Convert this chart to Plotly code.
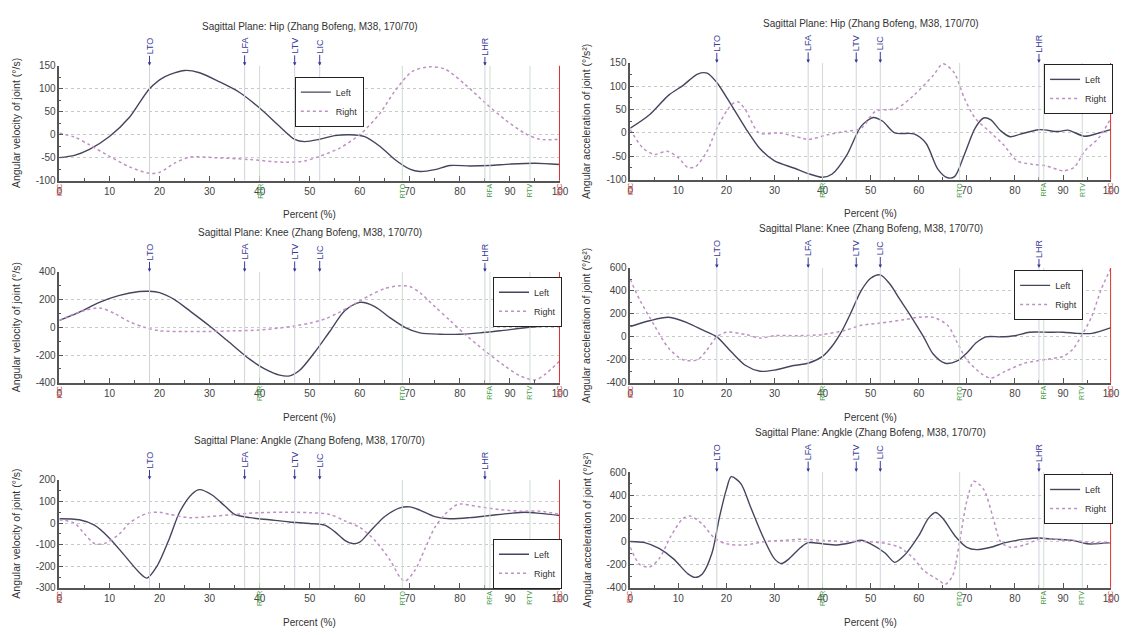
import plotly.graph_objects as go

W, H = 1128, 635
FONT = "Liberation Sans, Arial, sans-serif"

# ---------------- data (percent of gait cycle vs joint kinematics) ----------------
hip_vel_left_x = [0, 3, 6, 10, 14, 18, 21, 25, 28, 32, 36, 40, 44, 47, 49, 52, 55, 58, 61, 64, 67, 70, 72, 75, 78, 82, 86, 90, 95, 100]
hip_vel_left_y = [-50, -45, -32, -4, 38, 100, 126, 140, 135, 115, 92, 58, 18, -10, -15, -10, -2, 0, -4, -25, -54, -75, -80, -76, -67, -68, -67, -64, -62, -65]
hip_vel_right_x = [0, 3, 6, 10, 14, 18, 20, 23, 26, 31, 38, 45, 49, 52, 56, 60, 64, 67, 70.5, 74, 77, 81, 85, 89, 93, 96, 100]
hip_vel_right_y = [3, -5, -22, -47, -70, -84, -82, -62, -49, -50, -54, -60, -57, -47, -29, 0, 46, 95, 138, 148, 143, 110, 70, 33, 3, -10, -10]

hip_acc_left_x = [0, 4, 8, 11, 14, 16, 18, 21, 24, 27, 30, 34, 37, 40, 42, 45, 48, 50.5, 52.5, 55, 59, 61.5, 64, 66, 67.5, 69.5, 71.7, 73.5, 75, 77, 79, 81, 85, 89, 91, 94.5, 97.5, 100]
hip_acc_left_y = [10, 39, 81, 102, 126, 128, 108, 60, 10, -34, -60, -75, -87, -95, -88, -48, 14, 33, 25, 0, -2, -22, -78, -96, -93, -46, 10, 32, 28, 5, -8, -3, 7, 3, 6, -7, 0, 7]
hip_acc_right_x = [0, 2.6, 5, 7.7, 10, 12, 13.6, 16, 18, 21, 22.4, 24, 26.8, 31, 35.7, 37, 41, 44.5, 48, 51, 55.5, 59, 63, 65, 67.3, 69.5, 71.7, 74.6, 77.6, 80.5, 83.5, 86.4, 90, 92.3, 94.5, 97.4, 100]
hip_acc_right_y = [7, -32, -46, -39, -53, -74, -72, -39, 10, 60, 67, 49, 0, 0, -11, -14, -4, 3, 10, 46, 53, 81, 123, 148, 130, 74, 32, 4, -25, -60, -67, -70, -81, -74, -39, -11, 32]

knee_vel_left_x = [0, 4, 8, 12, 16, 18, 20, 23, 26, 30, 34, 38, 41, 44, 46, 48, 51, 54, 57, 60, 63, 66, 69, 72, 76, 80, 84, 88, 94, 100]
knee_vel_left_y = [50, 110, 180, 230, 258, 260, 250, 200, 120, 10, -110, -230, -300, -345, -350, -310, -180, -30, 120, 180, 150, 70, 0, -40, -50, -50, -40, -25, 0, 20]
knee_vel_right_x = [0, 4, 8, 11, 14, 17, 20, 25, 30, 35, 40, 44, 47, 50, 53, 56, 59, 62, 65, 68, 70, 72, 75, 78, 81, 85, 89, 92, 95, 97, 100]
knee_vel_right_y = [50, 110, 140, 100, 40, 0, -25, -30, -30, -25, -20, -5, 10, 30, 60, 110, 170, 230, 280, 300, 295, 250, 150, 50, -50, -170, -280, -350, -380, -340, -240]

knee_acc_left_x = [0, 4, 8, 12, 15, 18, 21, 24, 27, 30, 34, 37, 40, 42, 44, 46, 48, 50, 52, 54, 56, 58.5, 61, 63, 65.5, 68, 70, 72, 74, 77, 80, 83, 87, 90, 93, 96, 100]
knee_acc_left_y = [90, 140, 170, 120, 60, 0, -130, -250, -300, -290, -250, -230, -170, -80, 50, 220, 400, 510, 540, 460, 330, 170, 0, -150, -230, -210, -140, -50, 0, 0, 10, 40, 40, 40, 30, 30, 80]
knee_acc_right_x = [0, 2, 5, 8, 11, 14, 16, 18, 20, 24, 27, 30, 35, 40, 45, 48, 52, 57, 60, 63, 66, 68, 70, 73, 75, 78, 82, 86, 90, 92, 94, 96, 98, 100]
knee_acc_right_y = [500, 320, 100, -100, -200, -200, -110, 0, 40, 20, -10, 10, 10, 20, 60, 100, 120, 150, 170, 170, 100, -50, -200, -320, -360, -300, -230, -200, -170, -110, 20, 180, 420, 600]

ankle_vel_left_x = [0, 4, 7, 10, 13, 16, 17.5, 19.5, 22, 24, 26.5, 28, 30.5, 33, 35, 38, 42, 46, 50, 53, 55, 57, 58.5, 60, 62, 65, 68, 70, 72, 75, 78, 82, 86, 90, 93, 96, 100]
ankle_vel_left_y = [20, 15, -10, -70, -150, -230, -255, -200, -70, 50, 135, 155, 130, 80, 40, 25, 15, 5, -2, -10, -40, -80, -95, -88, -40, 30, 70, 75, 60, 30, 20, 25, 35, 45, 50, 45, 35]
ankle_vel_right_x = [0, 3, 5, 7, 9, 12, 14, 16, 18, 20, 22, 26, 30, 35, 40, 45, 50, 54, 57, 60, 63, 66, 68, 69, 71, 73, 75, 77, 79, 80, 84, 88, 92, 96, 100]
ankle_vel_right_y = [15, 0, -50, -95, -95, -50, 0, 30, 48, 50, 40, 25, 30, 40, 48, 50, 48, 40, 10, -20, -80, -170, -250, -270, -220, -120, -20, 40, 80, 88, 75, 62, 55, 55, 40]

ankle_acc_left_x = [0, 3, 6, 9, 12, 13.5, 15, 17, 18.5, 20, 21, 23, 25, 27.5, 30, 31.5, 33, 35.5, 37, 40, 43, 46, 48, 50, 53, 55, 57, 60, 62, 63.5, 65, 67.5, 70, 72, 75, 78, 82, 85, 88, 92, 95, 100]
ankle_acc_left_y = [0, -10, -60, -150, -280, -310, -280, -100, 200, 450, 560, 500, 300, 50, -150, -190, -150, -50, -10, -20, -30, -10, 10, -20, -100, -180, -120, 50, 200, 250, 200, 50, -50, -70, -50, -10, 20, 30, 20, 10, -20, -10]
ankle_acc_right_x = [0, 2, 4, 6, 8.5, 11, 12.5, 15, 17.5, 20, 24, 28, 32, 36, 40, 44, 48, 52, 56, 59, 61, 64, 65.5, 67, 68.5, 70, 71.5, 73.5, 75.5, 77, 79, 82, 85, 88, 92, 96, 100]
ankle_acc_right_y = [-50, -200, -220, -150, 50, 200, 220, 150, 30, -20, -30, 0, 10, 20, 10, 0, 0, -10, -50, -150, -250, -330, -370, -300, 0, 350, 520, 450, 200, 0, -50, -30, 20, 20, 10, -10, -10]

# gait events (percent of cycle)
left_events = ["LTO", "LFA", "LTV", "LIC", "LHR"]
left_event_pos = [18, 37, 47, 52, 85]
right_events = ["RIC", "RHR", "RTO", "RFA", "RTV", "RIC"]
right_event_pos = [0, 40, 68.5, 86, 94, 100]

x_ticks = [0, 10, 20, 30, 40, 50, 60, 70, 80, 90, 100]
vel_title = "Angular velocity of joint (°/s)"
acc_title = "Angular acceleration of joint (°/s²)"
titles = ["Sagittal Plane: Hip (Zhang Bofeng, M38, 170/70)",
          "Sagittal Plane: Knee (Zhang Bofeng, M38, 170/70)",
          "Sagittal Plane: Angkle (Zhang Bofeng, M38, 170/70)"]

panels = [
    dict(row=0, col=0, title=titles[0], ytitle=vel_title, yticks=[-100, -50, 0, 50, 100, 150],
         left=(hip_vel_left_x, hip_vel_left_y), right=(hip_vel_right_x, hip_vel_right_y),
         legend=dict(x=295, y=72, xa="left")),
    dict(row=0, col=1, title=titles[0], ytitle=acc_title, yticks=[-100, -50, 0, 50, 100, 150],
         left=(hip_acc_left_x, hip_acc_left_y), right=(hip_acc_right_x, hip_acc_right_y),
         legend=dict(x=1122, y=59, xa="right")),
    dict(row=1, col=0, title=titles[1], ytitle=vel_title, yticks=[-400, -200, 0, 200, 400],
         left=(knee_vel_left_x, knee_vel_left_y), right=(knee_vel_right_x, knee_vel_right_y),
         legend=dict(x=565, y=276, xa="right")),
    dict(row=1, col=1, title=titles[1], ytitle=acc_title, yticks=[-400, -200, 0, 200, 400, 600],
         left=(knee_acc_left_x, knee_acc_left_y), right=(knee_acc_right_x, knee_acc_right_y),
         legend=dict(x=1022, y=269, xa="left")),
    dict(row=2, col=0, title=titles[2], ytitle=vel_title, yticks=[-300, -200, -100, 0, 100, 200],
         left=(ankle_vel_left_x, ankle_vel_left_y), right=(ankle_vel_right_x, ankle_vel_right_y),
         legend=dict(x=565, y=543, xa="right")),
    dict(row=2, col=1, title=titles[2], ytitle=acc_title, yticks=[-400, -200, 0, 200, 400, 600],
         left=(ankle_acc_left_x, ankle_acc_left_y), right=(ankle_acc_right_x, ankle_acc_right_y),
         legend=dict(x=1122, y=477, xa="right")),
]

# pixel layout of the plotting areas
col_px = [(57, 563), (634, 1120)]
row_px = [[(61, 178), (58, 177)], [(271, 384), (267, 384)], [(483, 593), (475, 593)]]

LEFT_COLOR = "#45465e"
RIGHT_COLOR = "#bf90c4"
AXIS_COLOR = "#555555"
TEXT_COLOR = "#444444"

fig = go.Figure()
layout = dict(width=W, height=H, margin=dict(l=0, r=0, t=0, b=0),
              paper_bgcolor="white", plot_bgcolor="white", showlegend=True,
              font=dict(family=FONT, size=10, color=TEXT_COLOR))
annotations = []
shapes = []

for i, p in enumerate(panels, start=1):
    c, r = p["col"], p["row"]
    x0, x1 = col_px[c]
    top, bot = row_px[r][c]
    xa = f"xaxis{i}" if i > 1 else "xaxis"
    ya = f"yaxis{i}" if i > 1 else "yaxis"
    xr = f"x{i}" if i > 1 else "x"
    yr = f"y{i}" if i > 1 else "y"
    leg = f"legend{i}" if i > 1 else "legend"

    layout[xa] = dict(domain=[x0 / W, x1 / W], anchor=yr, range=[0, 100],
                      tickvals=x_ticks, ticktext=[str(t) for t in x_ticks],
                      ticks="inside", ticklen=5, tickcolor=AXIS_COLOR,
                      minor=dict(dtick=5, ticks="inside", ticklen=3, tickcolor=AXIS_COLOR),
                      showline=True, linecolor=AXIS_COLOR, linewidth=2,
                      showgrid=False, zeroline=False,
                      tickfont=dict(size=10, color=TEXT_COLOR))
    yt = p["yticks"]
    layout[ya] = dict(domain=[1 - bot / H, 1 - top / H], anchor=xr, range=[yt[0], yt[-1]],
                      tickvals=yt, ticktext=[str(v) for v in yt],
                      ticks="inside", ticklen=4, tickcolor=AXIS_COLOR,
                      minor=dict(tickvals=[(a + b) / 2 for a, b in zip(yt[:-1], yt[1:])],
                                 ticks="inside", ticklen=2, tickcolor=AXIS_COLOR),
                      showline=True, linecolor=AXIS_COLOR, linewidth=1.5,
                      showgrid=True, gridcolor="#c9c9c9", griddash="dot", gridwidth=1,
                      zeroline=False, tickfont=dict(size=10, color=TEXT_COLOR))

    lg = p["legend"]
    layout[leg] = dict(x=lg["x"] / W, y=1 - lg["y"] / H, xanchor=lg["xa"], yanchor="top",
                       xref="paper", yref="paper",
                       bgcolor="white", bordercolor="#222222", borderwidth=1,
                       font=dict(size=9, color="#333333"), itemwidth=30,
                       tracegroupgap=0)

    # event guide lines
    for v in left_event_pos:
        shapes.append(dict(type="line", xref=xr, yref=f"{yr} domain", x0=v, x1=v, y0=0, y1=1,
                           line=dict(color="#d2d2dc", width=1)))
    for v in right_event_pos[1:-1]:
        shapes.append(dict(type="line", xref=xr, yref=f"{yr} domain", x0=v, x1=v, y0=0, y1=1,
                           line=dict(color="#d0dcd0", width=1)))
    shapes.append(dict(type="line", xref=xr, yref=f"{yr} domain", x0=100, x1=100, y0=0, y1=1,
                       line=dict(color="#e03030", width=2)))

    lx, ly = p["left"]
    rx, ry = p["right"]
    fig.add_trace(go.Scatter(x=lx, y=ly, name="Left", mode="lines", xaxis=xr, yaxis=yr,
                             legend=leg, line=dict(color=LEFT_COLOR, width=1.4,
                                                   shape="spline", smoothing=0.8)))
    fig.add_trace(go.Scatter(x=rx, y=ry, name="Right", mode="lines", xaxis=xr, yaxis=yr,
                             legend=leg, line=dict(color=RIGHT_COLOR, width=1.5, dash="dot",
                                                   shape="spline", smoothing=0.8)))

    # panel title, axis titles
    cx = (x0 + x1) / 2 / W
    annotations.append(dict(text=p["title"], x=cx, y=1 - (top - 40) / H, xref="paper", yref="paper",
                            showarrow=False, font=dict(size=10, color="#333333"),
                            xanchor="center", yanchor="middle"))
    annotations.append(dict(text="Percent (%)", x=cx, y=1 - (bot + 35) / H, xref="paper", yref="paper",
                            showarrow=False, font=dict(size=10, color="#333333"),
                            xanchor="center", yanchor="middle"))
    annotations.append(dict(text=p["ytitle"], x=(x0 - 44) / W, y=1 - (top + bot) / 2 / H,
                            xref="paper", yref="paper", textangle=-90, showarrow=False,
                            font=dict(size=10.5, color="#333333"),
                            xanchor="center", yanchor="middle"))

    # left-side gait events above the plot
    for name, v in zip(left_events, left_event_pos):
        annotations.append(dict(text=name, x=v, y=1, xref=xr, yref=f"{yr} domain",
                                showarrow=True, ax=0, ay=-20, arrowhead=2, arrowsize=0.7,
                                arrowwidth=1, arrowcolor="#3a3a9a", textangle=-90,
                                font=dict(size=9, color="#3a3a9a")))
    # right-side gait events below the axis
    for name, v in zip(right_events, right_event_pos):
        col = "#d04545" if name == "RIC" else "#3f9a3f"
        annotations.append(dict(text=name, x=v, y=0, xref=xr, yref=f"{yr} domain",
                                showarrow=False, textangle=-90, yanchor="top", yshift=-1,
                                font=dict(size=7, color=col)))

layout["annotations"] = annotations
layout["shapes"] = shapes
fig.update_layout(**layout)
fig.write_html("out.html")
